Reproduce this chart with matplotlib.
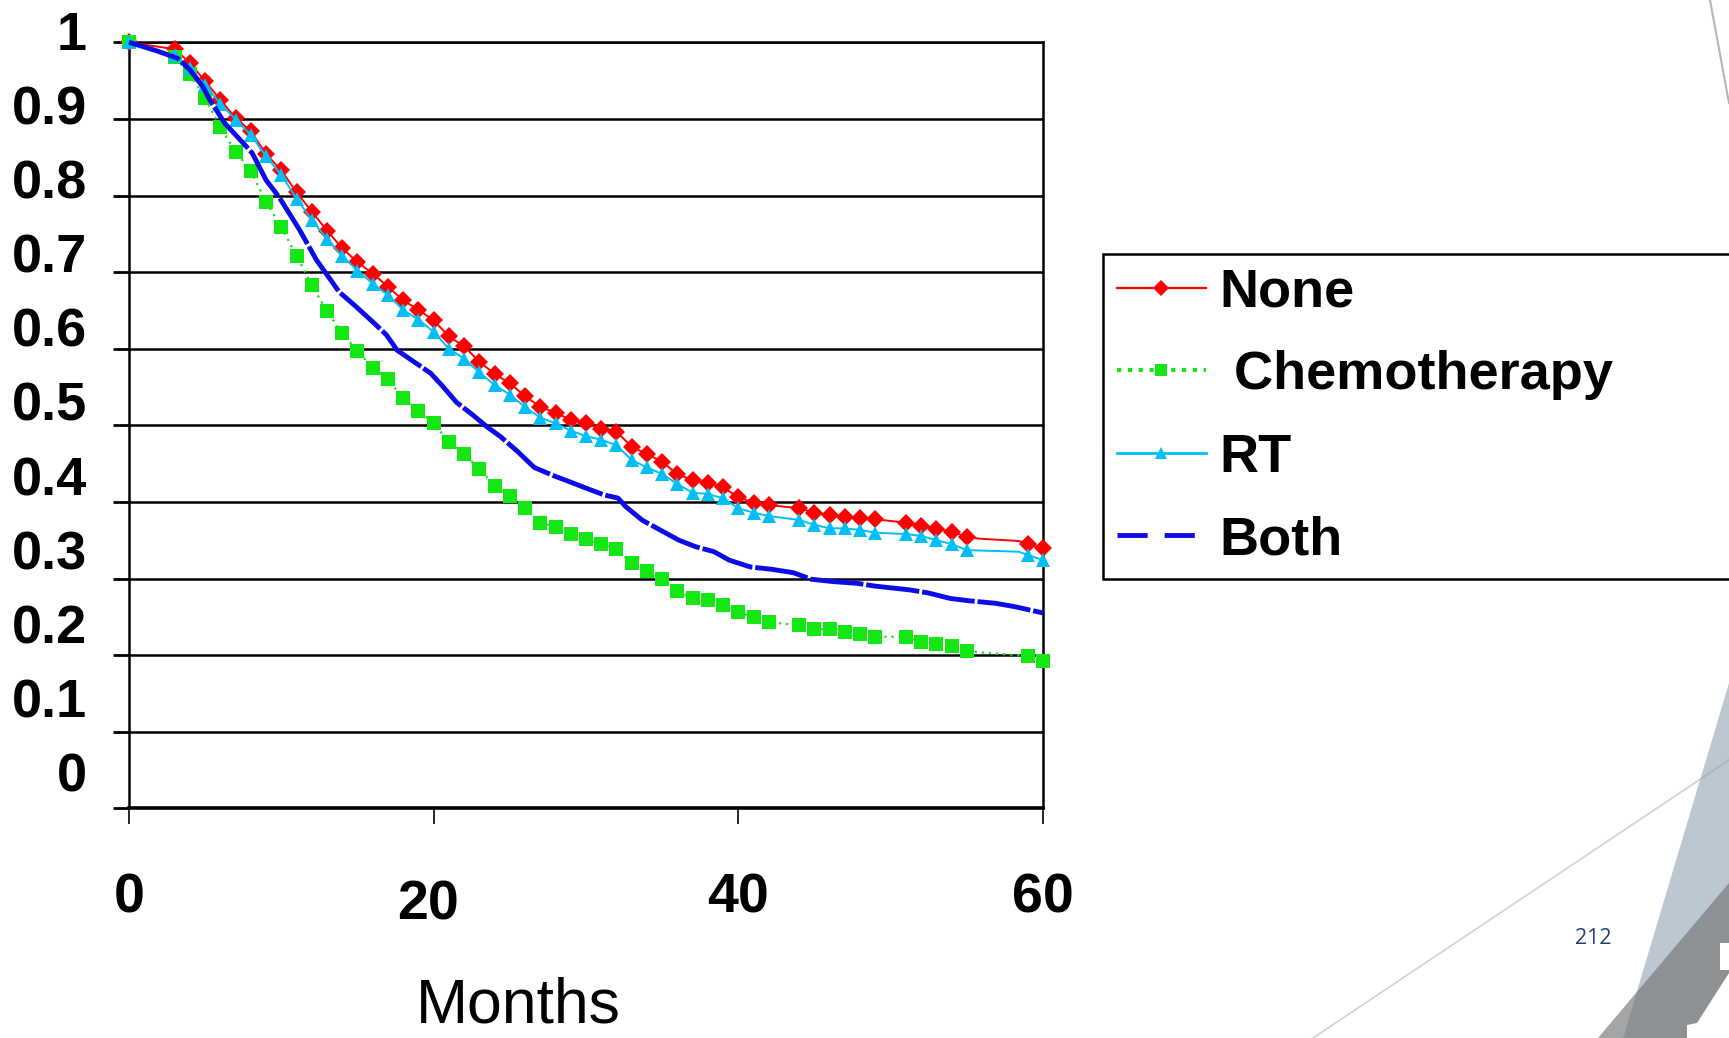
import numpy as np
import matplotlib
matplotlib.use('Agg')
import matplotlib.pyplot as plt
from matplotlib.lines import Line2D
from matplotlib.patches import Polygon
from matplotlib.transforms import ScaledTranslation

plt.rcParams['font.family'] = ['Liberation Sans', 'DejaVu Sans']

# survival curves (months, proportion surviving)
mark_months = [0] + list(range(3, 43)) + list(range(44, 50)) + list(range(51, 56)) + [59, 60]

none_months = [0] + list(range(3, 43)) + list(range(44, 50)) + list(range(51, 56)) + [55.8, 58.4, 59, 60]
none_surv = [1.0, 0.991, 0.973, 0.949, 0.925, 0.901, 0.884, 0.854, 0.833, 0.804, 0.779,
             0.754, 0.731, 0.713, 0.698, 0.681, 0.663, 0.651, 0.637, 0.616, 0.603,
             0.583, 0.567, 0.555, 0.538, 0.524, 0.5165, 0.507, 0.503, 0.495, 0.4917,
             0.472, 0.4625, 0.4525, 0.436, 0.4286, 0.4243, 0.419, 0.406, 0.399, 0.396,
             0.3916, 0.386, 0.383, 0.3807, 0.3786, 0.3773,
             0.3729, 0.3685, 0.365, 0.361, 0.3546,
             0.352, 0.349, 0.345, 0.3394]

chemo_months = [0] + list(range(3, 43)) + list(range(44, 50)) + list(range(51, 56)) + [59, 60]
chemo_surv = [1.0, 0.981, 0.959, 0.927, 0.889, 0.857, 0.832, 0.791, 0.759, 0.721, 0.683,
              0.649, 0.620, 0.597, 0.575, 0.5605, 0.535, 0.519, 0.503, 0.478, 0.462,
              0.443, 0.421, 0.408, 0.392, 0.373, 0.367, 0.358, 0.351, 0.345, 0.338,
              0.320, 0.310, 0.300, 0.284, 0.274, 0.272, 0.2654, 0.256, 0.2493, 0.2428,
              0.2393, 0.2337, 0.2337, 0.2306, 0.2275, 0.224,
              0.224, 0.2175, 0.2145, 0.212, 0.205,
              0.1988, 0.1927]

rt_months = [0] + list(range(3, 43)) + list(range(44, 50)) + list(range(51, 56)) + [58.4, 59, 60]
rt_surv = [1.0, 0.983, 0.966, 0.944, 0.920, 0.899, 0.879, 0.851, 0.827, 0.796, 0.768,
           0.743, 0.721, 0.702, 0.685, 0.670, 0.6505, 0.638, 0.622, 0.600, 0.587,
           0.569, 0.5526, 0.540, 0.524, 0.510, 0.5026, 0.493, 0.486, 0.481, 0.474,
           0.4547, 0.445, 0.4364, 0.4234, 0.412, 0.4103, 0.4047, 0.3916, 0.386, 0.3816,
           0.3764, 0.370, 0.3655, 0.3655, 0.3633, 0.3598,
           0.358, 0.3555, 0.350, 0.345, 0.337,
           0.335, 0.3307, 0.324]

both_months = [0, 1.8, 3.2, 4, 4.85, 5.3, 6.3, 7.7, 8.1, 9, 9.85, 11.2, 12.3, 13.8, 14.9,
               16.0, 16.9, 17.6, 18.7, 19.8, 20.5, 21.5, 22.6, 23.5, 24.4, 25.5, 26.6,
               27.9, 28.7, 30.0, 31.2, 32.1, 32.6, 33.7, 34.9, 36.1, 37.2, 38.4, 39.4,
               40.8, 42.2, 43.6, 44.8, 46.2, 47.8, 49.0, 50.4, 51.3, 52.5, 53.9, 55.1,
               56.9, 58.2, 60]
both_surv = [1.0, 0.989, 0.979, 0.964, 0.942, 0.925, 0.894, 0.864, 0.855, 0.820, 0.798,
             0.755, 0.716, 0.674, 0.655, 0.635, 0.618, 0.598, 0.583, 0.568, 0.553,
             0.530, 0.513, 0.498, 0.485, 0.466, 0.445, 0.434, 0.428, 0.418, 0.409,
             0.405, 0.394, 0.376, 0.363, 0.350, 0.3415, 0.335, 0.324, 0.315, 0.312,
             0.3076, 0.299, 0.296, 0.2937, 0.290, 0.287, 0.285, 0.281, 0.274, 0.271,
             0.2676, 0.263, 0.255]

labels = ['None', ' Chemotherapy', 'RT', 'Both']
yticks = np.round(np.arange(0, 1.01, 0.1), 1)
ytick_labels = ['0', '0.1', '0.2', '0.3', '0.4', '0.5', '0.6', '0.7', '0.8', '0.9', '1']
xticks = [0, 20, 40, 60]

RED, GREEN, CYAN, BLUE = '#ff0000', '#14e614', '#00bff5', '#0c0ce6'

W, H = 1729, 1038
fig = plt.figure(figsize=(W / 100, H / 100), dpi=100, facecolor='white')
ax = fig.add_axes([129 / W, 1 - 808.3 / H, 914 / W, 766 / H])


def marks(months):
    return [i for i, m in enumerate(months) if m in mark_months]


ax.plot(none_months, none_surv, color=RED, lw=1.4, marker='D', ms=9.2, mew=0,
        markevery=marks(none_months), clip_on=False, zorder=3)
ax.plot(chemo_months, chemo_surv, color=GREEN, lw=1.6, ls=(0, (1, 2.2)), marker='s', ms=9.5,
        mew=0, markevery=marks(chemo_months), clip_on=False, zorder=3)
ax.plot(rt_months, rt_surv, color=CYAN, lw=1.4, marker='^', ms=10.5, mew=0,
        markevery=marks(rt_months), clip_on=False, zorder=4)
ax.plot(both_months, both_surv, color=BLUE, lw=3.5, dashes=(11, 0.6), clip_on=False, zorder=5)

ax.set_xlim(0, 60)
ax.set_ylim(0, 1)

ax.set_yticks(yticks)
ax.set_yticklabels(ytick_labels, fontsize=39, fontweight='bold')
ax.set_xticks(xticks)
ax.set_xticklabels([str(x) for x in xticks], fontsize=40, fontweight='bold')
ax.tick_params(axis='y', length=11.5, width=2, pad=19, color='black')
ax.tick_params(axis='x', length=11.5, width=1.2, pad=35, color='black')

# labels on the slide drift upward from their gridlines
for tick, v in zip(ax.yaxis.get_major_ticks(), yticks):
    dy = (12 + 24 * (1 - v)) * 0.72 / 72
    tick.label1.set_transform(tick.label1.get_transform() +
                              ScaledTranslation(0, dy, fig.dpi_scale_trans))
for tick, x in zip(ax.xaxis.get_major_ticks(), xticks):
    if x == 20:
        tick.label1.set_transform(tick.label1.get_transform() +
                                  ScaledTranslation(-6 * 0.72 / 72, -7 * 0.72 / 72,
                                                    fig.dpi_scale_trans))

ax.yaxis.grid(True, color='black', lw=1.8)
ax.set_axisbelow(True)
for side in ['left', 'right', 'top']:
    ax.spines[side].set_linewidth(1.8)
ax.spines['bottom'].set_linewidth(2.6)

ax.set_xlabel('Months', fontsize=45)
ax.xaxis.label.set_va('center')
ax.xaxis.set_label_coords((518 - 129) / 914, (808.3 - 1006) / 766)

handles = [
    Line2D([], [], color=RED, lw=1.6, marker='D', ms=8, mew=0),
    Line2D([], [], color=GREEN, lw=3, ls=(0, (1, 1.6)), marker='s', ms=8.5, mew=0),
    Line2D([], [], color=CYAN, lw=2, marker='^', ms=8.5, mew=0),
    Line2D([], [], color=BLUE, lw=3.5, dashes=(6.2, 3.5)),
]
leg = ax.legend(handles, labels, loc='upper left',
                bbox_to_anchor=(1103 / W, 1 - 580.7 / H, 0.6, 326.7 / H),
                bbox_transform=fig.transFigure, mode='expand', borderaxespad=0,
                prop={'size': 39, 'weight': 'bold'}, handlelength=1.65,
                handletextpad=0.25, borderpad=0.25, labelspacing=0.6,
                fancybox=False, framealpha=1, edgecolor='black')
leg.get_frame().set_linewidth(1.8)

# slide decoration in the lower right corner
def px(points):
    return [(x / W, 1 - y / H) for x, y in points]


fig.add_artist(Polygon(px([(1598, 1038), (1729, 883), (1729, 1038)]),
                       closed=True, facecolor='#a5a5a5', edgecolor='none',
                       transform=fig.transFigure))
fig.add_artist(Polygon(px([(1729, 683), (1623, 1038), (1729, 1038)]),
                       closed=True, facecolor='#bdc7d2', edgecolor='none',
                       transform=fig.transFigure))
fig.add_artist(Polygon(px([(1636.6, 992.3), (1729, 883), (1729, 1038), (1623, 1038)]),
                       closed=True, facecolor='#8e9194', edgecolor='none',
                       transform=fig.transFigure))
fig.add_artist(Polygon(px([(1729, 973), (1697, 1023), (1687, 1025), (1687, 1038), (1729, 1038)]),
                       closed=True, facecolor='white', edgecolor='none',
                       transform=fig.transFigure))
fig.add_artist(Polygon(px([(1720, 943), (1729, 943), (1729, 970), (1720, 970)]),
                       closed=True, facecolor='white', edgecolor='none',
                       transform=fig.transFigure))
fig.add_artist(Line2D([1313 / W, 1], [0, 1 - 760 / H], color='#9a9a9a', alpha=0.45,
                      lw=1.2, transform=fig.transFigure))
fig.add_artist(Line2D([1710 / W, 1], [1, 1 - 103 / H], color='#b5b5b5',
                      lw=1.5, transform=fig.transFigure))
fig.text(1593 / W, 1 - 938 / H, '212', ha='center', va='center', fontsize=15.5,
         color='#22416a', family=['Open Sans', 'DejaVu Sans'])

fig.savefig('out.png', dpi=100, facecolor='white')
